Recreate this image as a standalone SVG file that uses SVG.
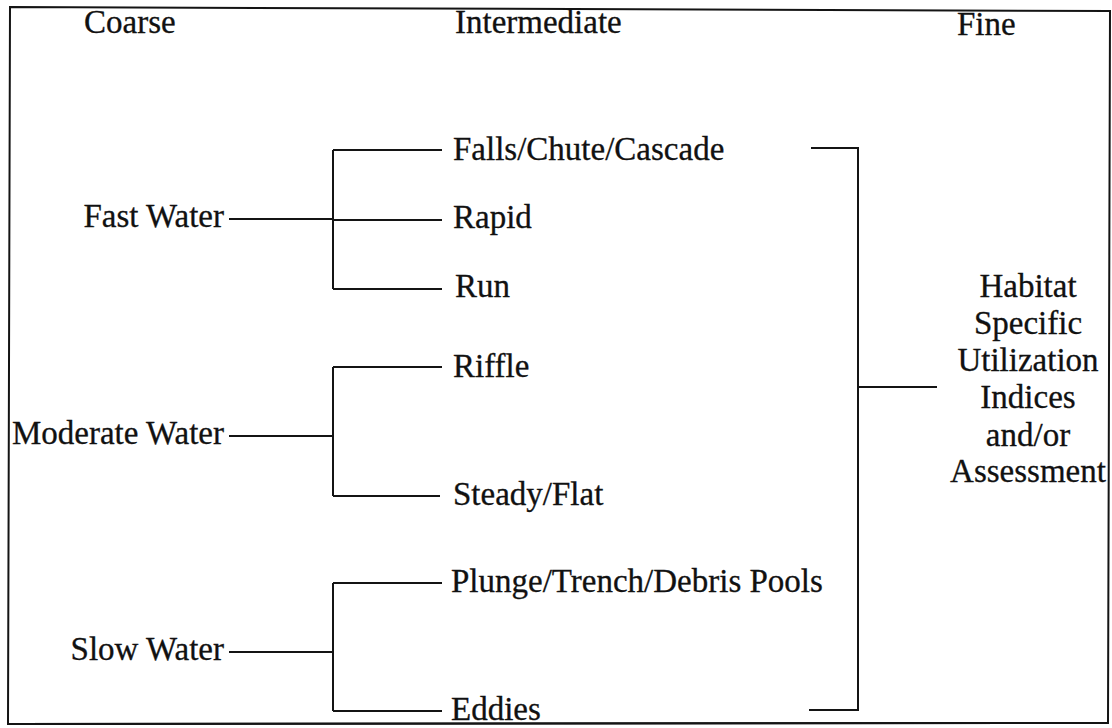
<svg xmlns="http://www.w3.org/2000/svg" width="1112" height="728" viewBox="0 0 1112 728">
<style>
text{font-family:"Liberation Serif","Times New Roman",serif;font-size:33px;fill:#111;stroke:#111;stroke-width:0.3}
.r{text-anchor:end}
.c{text-anchor:middle}
.ln{stroke:#141414;stroke-width:2;fill:none}
</style>
<rect width="1112" height="728" fill="#fff"/>
<path id="frame" class="ln" d="M10,7 L1110,11 L1108,723 L8,724 Z"/>
<g id="headers">
<text x="84" y="33">Coarse</text>
<text x="455" y="33">Intermediate</text>
<text x="957" y="35">Fine</text>
</g>
<g id="connectors" class="ln">
<path d="M229,219 H333 M333,150 V289 M333,150 H442 M333,220 H442 M333,289 H442"/>
<path d="M229,436 H333 M333,367 V496 M333,367 H442 M333,496 H440"/>
<path d="M229,652 H333 M333,583 V711 M333,583 H442 M333,711 H442"/>
<path d="M811,148 H858 V710 H809 M858,387 H937"/>
</g>
<g id="n-fast"><text class="r" x="224" y="227">Fast Water</text></g>
<g id="n-moderate"><text class="r" x="224" y="444">Moderate Water</text></g>
<g id="n-slow"><text class="r" x="224" y="660">Slow Water</text></g>
<g id="n-falls"><text x="453" y="160">Falls/Chute/Cascade</text></g>
<g id="n-rapid"><text x="453" y="228">Rapid</text></g>
<g id="n-run"><text x="455" y="297">Run</text></g>
<g id="n-riffle"><text x="453" y="377">Riffle</text></g>
<g id="n-steady"><text x="453" y="505">Steady/Flat</text></g>
<g id="n-plunge"><text x="451" y="592">Plunge/Trench/Debris Pools</text></g>
<g id="n-eddies"><text x="451" y="720">Eddies</text></g>
<g id="n-habitat">
<text class="c" x="1028" y="297">Habitat</text>
<text class="c" x="1028" y="334">Specific</text>
<text class="c" x="1028" y="371">Utilization</text>
<text class="c" x="1028" y="408">Indices</text>
<text class="c" x="1028" y="446">and/or</text>
<text class="c" x="1028" y="482">Assessment</text>
</g>
<path class="ln" d="M8,724 L1108,723"/>
</svg>
